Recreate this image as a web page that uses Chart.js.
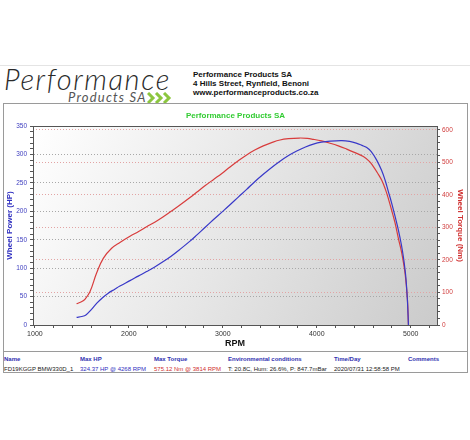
<!DOCTYPE html>
<html>
<head>
<meta charset="utf-8">
<script src="https://cdn.jsdelivr.net/npm/chart.js@4.4.0/dist/chart.umd.min.js"></script>
<style>
  body { margin: 0; width: 470px; height: 440px; background: #fff; position: relative; overflow: hidden;
         font-family: "Liberation Sans", Arial, sans-serif; }
  .abs { position: absolute; white-space: nowrap; }
  #topline { left: 0; top: 65px; width: 470px; height: 1px; background: #e4e4e4; }
  #logo1 { left: 4px; top: 64px; font-family: Lato, "Liberation Sans", sans-serif; font-weight: 300; font-size: 29px; line-height: 29px; font-style: italic; color: #2a2a2a; letter-spacing: 1.6px; }
  #logo2 { left: 68px; top: 91px; font-family: Lato, "Liberation Sans", sans-serif; font-weight: 400; font-size: 13px; line-height: 13px; font-style: italic; color: #555; letter-spacing: 1.2px; }
  #chev { left: 147px; top: 92px; }
  #contact { left: 193px; top: 69.5px; font-size: 8px; font-weight: bold; line-height: 9.3px; color: #111; }
  #frame { left: 3px; top: 103px; width: 463px; height: 268px; border: 1px solid #9a9a9a; }
  #sep { left: 3px; top: 351px; width: 465px; height: 1px; background: #9a9a9a; }
  #wrap { left: 4px; top: 104px; width: 463px; height: 247px; }
  .th { top: 355.5px; font-size: 6px; font-weight: bold; color: #3030b0; }
  .td { top: 365.5px; font-size: 6px; color: #222; }
</style>
</head>
<body>
<div class="abs" id="topline"></div>
<div class="abs" id="logo1">Performance</div>
<div class="abs" id="logo2">Products SA</div>
<svg class="abs" id="chev" width="26" height="12">
  <polyline points="1,1 6,6 1,11" fill="none" stroke="#8cc63f" stroke-width="3"/>
  <polyline points="9,1 14,6 9,11" fill="none" stroke="#8cc63f" stroke-width="3"/>
  <polyline points="17,1 22,6 17,11" fill="none" stroke="#8cc63f" stroke-width="3"/>
</svg>
<div class="abs" id="contact">Performance Products SA<br>4 Hills Street, Rynfield, Benoni<br>www.performanceproducts.co.za</div>
<div class="abs" id="frame"></div>
<div class="abs" id="sep"></div>
<div class="abs" id="wrap"><canvas id="dynoChart"></canvas></div>

<div class="abs th" style="left:4px">Name</div>
<div class="abs th" style="left:80px">Max HP</div>
<div class="abs th" style="left:154px">Max Torque</div>
<div class="abs th" style="left:228px">Environmental conditions</div>
<div class="abs th" style="left:334px">Time/Day</div>
<div class="abs th" style="left:408px">Comments</div>
<div class="abs td" style="left:4px">FD19KGGP BMW330D_1</div>
<div class="abs td" style="left:80px;color:#3030c0">324.37 HP @ 4268 RPM</div>
<div class="abs td" style="left:154px;color:#d03030">575.12 Nm @ 3814 RPM</div>
<div class="abs td" style="left:228px">T: 20.8C, Hum: 26.6%, P: 847.7mBar</div>
<div class="abs td" style="left:334px">2020/07/31 12:58:58 PM</div>

<script>
// Data
const hpRpm = [1444, 1500, 1543, 1600, 1657, 1720, 1781, 1850, 1905, 2012, 2100, 2189, 2280, 2367, 2450, 2544,
  2651, 2722, 2810, 2899, 2990, 3077, 3165, 3254, 3340, 3431, 3520, 3609, 3700, 3787, 3880, 3964, 4050, 4142,
  4268, 4350, 4420, 4480, 4532, 4580, 4638, 4690, 4727, 4760, 4798, 4835, 4869, 4900, 4922, 4940, 4951, 4965, 4976];
const hpValues = [13.5, 15, 17.6, 27, 38, 48, 56, 63, 68.6, 78, 86, 94, 102.5, 111.5, 121, 133,
  147.5, 158, 171.5, 185, 198.5, 211.5, 225, 238.5, 252, 265, 277, 288, 298, 306, 313, 318, 321.5, 323.5,
  324.4, 323, 320, 316, 312, 305, 290, 272, 255, 236, 214, 190, 167, 142, 120, 97, 79, 44, 0];

const tqRpm = [1444, 1500, 1532, 1586, 1657, 1728, 1817, 1905, 2012, 2100, 2189, 2280, 2367, 2450, 2544, 2651,
  2722, 2810, 2899, 2990, 3077, 3165, 3254, 3340, 3431, 3520, 3609, 3700, 3814, 3900, 3964, 4050, 4142, 4230,
  4319, 4400, 4496, 4560, 4603, 4650, 4692, 4730, 4763, 4800, 4834, 4870, 4905, 4940, 4965, 4976];
const tqValues = [65.6, 72, 79, 102, 160, 205, 236, 254, 273, 287, 302, 317, 333, 350, 369, 392,
  408, 428, 447, 466, 486, 505, 523, 538, 551, 561, 569, 573, 575, 574, 571, 566, 559, 551,
  541, 531, 518, 503, 487, 466, 445, 418, 388, 350, 313, 265, 221, 159, 80, 0];

const rpmLabels = [1000, 2000, 3000, 4000, 5000];
const hpLabels = [0, 50, 100, 150, 200, 250, 300, 350];
const tqLabels = [0, 100, 200, 300, 400, 500, 600];

const blue = "#3838c8";
const red = "#d83c3c";
const fontFamily = "'Liberation Sans', Arial, sans-serif";

function steps(from, to, step) {
  const out = [];
  for (let v = from; v <= to + 1e-6; v += step) out.push({ value: v });
  return out;
}

// plot background + top border
const plotFrame = {
  id: "plotFrame",
  beforeDraw(chart) {
    const { ctx, chartArea: a } = chart;
    const g = ctx.createLinearGradient(a.left, a.top, a.right, a.bottom);
    g.addColorStop(0, "#ffffff");
    g.addColorStop(0.5, "#e6e6e6");
    g.addColorStop(1, "#cbcbcb");
    ctx.save();
    ctx.fillStyle = g;
    ctx.fillRect(a.left, a.top, a.width, a.height);
    ctx.restore();
  },
  afterDraw(chart) {
    const { ctx, chartArea: a } = chart;
    ctx.save();
    ctx.strokeStyle = "#555";
    ctx.lineWidth = 1;
    ctx.beginPath();
    ctx.moveTo(a.left, a.top + 0.5);
    ctx.lineTo(a.right, a.top + 0.5);
    ctx.stroke();
    ctx.restore();
  }
};

const ctx = document.getElementById("dynoChart").getContext("2d");
new Chart(ctx, {
  type: "line",
  data: {
    datasets: [{
      label: "Wheel Power (HP)",
      data: hpRpm.map((r, i) => ({ x: r, y: hpValues[i] })),
      borderColor: blue,
      borderWidth: 1.2,
      pointRadius: 0,
      tension: 0.4,
      yAxisID: "yHp"
    }, {
      label: "Wheel Torque (Nm)",
      data: tqRpm.map((r, i) => ({ x: r, y: tqValues[i] })),
      borderColor: red,
      borderWidth: 1.2,
      pointRadius: 0,
      tension: 0.4,
      yAxisID: "yTq"
    }]
  },
  options: {
    responsive: true,
    maintainAspectRatio: false,
    animation: false,
    layout: { padding: 0 },
    plugins: {
      legend: { display: false },
      tooltip: { enabled: false },
      title: {
        display: true,
        text: "Performance Products SA",
        color: "#33cc33",
        font: { family: fontFamily, size: 8, weight: "bold", lineHeight: 1.2 },
        padding: { top: 6.5, bottom: 5.9 }
      }
    },
    scales: {
      x: {
        type: "linear",
        min: 980,
        max: 5280,
        afterBuildTicks: s => { s.ticks = steps(1000, 5200, 200); },
        afterFit: s => { s.height = 26; },
        ticks: {
          autoSkip: false,
          maxRotation: 0,
          padding: 2,
          color: "#333",
          font: { family: fontFamily, size: 7 },
          callback: v => rpmLabels.includes(v) ? v : ""
        },
        grid: { drawOnChartArea: false, tickLength: 3, tickColor: "#555" },
        border: { color: "#555", width: 1 },
        title: {
          display: true, text: "RPM", color: "#111",
          font: { family: fontFamily, size: 9, weight: "bold", lineHeight: 1.2 },
          padding: { top: 0, bottom: 2 }
        }
      },
      yHp: {
        position: "left",
        min: 0,
        max: 350,
        afterBuildTicks: s => { s.ticks = steps(0, 350, 10); },
        afterFit: s => { s.width = 29; },
        ticks: {
          autoSkip: false,
          padding: 3,
          color: "#4040c0",
          font: { family: fontFamily, size: 6.5 },
          callback: v => hpLabels.includes(v) ? v : ""
        },
        grid: {
          tickLength: 3,
          tickColor: "#555",
          color: c => (hpLabels.includes(c.tick.value) && c.tick.value > 0 && c.tick.value < 350) ? "#a8a8a8" : "transparent"
        },
        border: { color: "#555", width: 1, dash: [1, 2] },
        title: {
          display: true, text: "Wheel Power (HP)", color: "#3030c0",
          font: { family: fontFamily, size: 8, weight: "bold", lineHeight: 1.2 },
          padding: { top: 1.2, bottom: 0 }
        }
      },
      yTq: {
        position: "right",
        min: 0,
        max: 612,
        afterBuildTicks: s => { s.ticks = steps(0, 600, 20); },
        afterFit: s => { s.width = 30; },
        ticks: {
          autoSkip: false,
          padding: 2,
          color: "#d03c3c",
          font: { family: fontFamily, size: 6.5 },
          callback: v => tqLabels.includes(v) ? v : ""
        },
        grid: {
          tickLength: 3,
          tickColor: "#555",
          color: c => (tqLabels.includes(c.tick.value) && c.tick.value > 0) ? "#e2a4a4" : "transparent"
        },
        border: { color: "#555", width: 1, dash: [1, 2] },
        title: {
          display: true, text: "Wheel Torque (Nm)", color: "#d03030",
          font: { family: fontFamily, size: 8, weight: "bold", lineHeight: 1.2 },
          padding: { top: 2.2, bottom: 0 }
        }
      }
    }
  },
  plugins: [plotFrame]
});
</script>
</body>
</html>
